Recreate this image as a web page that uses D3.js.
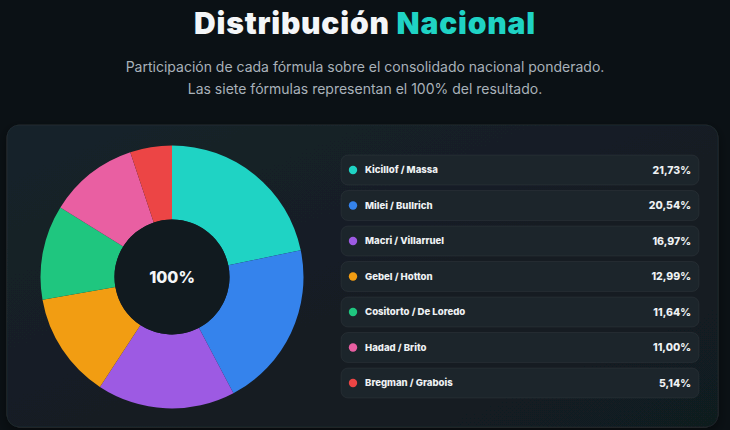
<!DOCTYPE html>
<html>
  <head>
    <meta charset="utf-8">
    <title>Distribución Nacional</title>
    <script src="https://d3js.org/d3.v7.min.js"></script>
    <style>
      body { margin: 0; background: #0b1115; }
      svg { display: block; }
    </style>
  </head>
  <body>
    <script>
      // Data
      const formulas = ["Kicillof / Massa", "Milei / Bullrich", "Macri / Villarruel", "Gebel / Hotton",
        "Cositorto / De Loredo", "Hadad / Brito", "Bregman / Grabois"];
      const shares = [21.73, 20.54, 16.97, 12.99, 11.64, 11.00, 5.14];
      const colors = ["#1fd3c4", "#3583ec", "#9d5ae3", "#f29d12", "#1fc67f", "#e95fa2", "#ec4545"];

      const width = 730;
      const height = 430;
      const fmt = v => v.toFixed(2).replace(".", ",") + "%";

      const svg = d3.select("body")
        .append("svg")
        .attr("width", width)
        .attr("height", height);

      const defs = svg.append("defs");
      const grad = defs.append("linearGradient")
        .attr("id", "panelGrad")
        .attr("x1", 0).attr("y1", 0).attr("x2", 1).attr("y2", 1);
      grad.append("stop").attr("offset", "0%").attr("stop-color", "#16222a");
      grad.append("stop").attr("offset", "100%").attr("stop-color", "#111a1f");

      const shadow = defs.append("filter").attr("id", "shadow")
        .attr("x", "-10%").attr("y", "-10%").attr("width", "120%").attr("height", "130%");
      shadow.append("feDropShadow")
        .attr("dx", 0).attr("dy", 4).attr("stdDeviation", 6)
        .attr("flood-color", "#000").attr("flood-opacity", 0.45);

      // Title
      const title = svg.append("text")
        .attr("x", width / 2)
        .attr("y", 34)
        .attr("text-anchor", "middle")
        .style("font-family", "Inter, 'Noto Sans', sans-serif")
        .style("font-weight", 900)
        .style("font-size", "30px")
        .style("letter-spacing", "0.8px");
      title.append("tspan").attr("fill", "#f4f6f8").text("Distribución ");
      title.append("tspan").attr("fill", "#1fd3c4").text("Nacional");

      const subtitle = [
        "Participación de cada fórmula sobre el consolidado nacional ponderado.",
        "Las siete fórmulas representan el 100% del resultado."
      ];
      svg.selectAll("text.sub")
        .data(subtitle)
        .enter()
        .append("text")
        .attr("class", "sub")
        .attr("x", width / 2)
        .attr("y", (d, i) => 72 + i * 22)
        .attr("text-anchor", "middle")
        .attr("fill", "#a9b2ba")
        .style("font-family", "Inter, 'Noto Sans', sans-serif")
        .style("font-size", "14px")
        .text(d => d);

      // Panel
      svg.append("rect")
        .attr("x", 7)
        .attr("y", 125)
        .attr("width", 711)
        .attr("height", 302)
        .attr("rx", 12)
        .attr("fill", "url(#panelGrad)")
        .attr("stroke", "rgba(255,255,255,0.05)")
        .attr("filter", "url(#shadow)");

      // Donut
      const cx = 172, cy = 277;
      const outer = 131.5, inner = 57.5;
      const pie = d3.pie().sort(null).value(d => d);
      const arc = d3.arc().innerRadius(inner).outerRadius(outer);

      const donut = svg.append("g")
        .attr("transform", `translate(${cx}, ${cy})`);

      donut.selectAll("path")
        .data(pie(shares))
        .enter()
        .append("path")
        .attr("d", arc)
        .attr("fill", (d, i) => colors[i]);

      donut.append("circle")
        .attr("r", inner)
        .attr("fill", "#111a1f");

      donut.append("text")
        .attr("text-anchor", "middle")
        .attr("dy", "0.35em")
        .attr("fill", "#f4f6f8")
        .style("font-family", "Inter, 'Noto Sans', sans-serif")
        .style("font-weight", 800)
        .style("font-size", "16px")
        .text("100%");

      // Legend rows
      const y = d3.scaleBand()
        .domain(formulas)
        .range([155, 398])
        .paddingInner(0.155)
        .paddingOuter(0);
      const x0 = 341, x1 = 699;

      const rows = svg.selectAll("g.row")
        .data(formulas)
        .enter()
        .append("g")
        .attr("class", "row")
        .attr("transform", d => `translate(0, ${y(d)})`);

      rows.append("rect")
        .attr("x", x0)
        .attr("width", x1 - x0)
        .attr("height", y.bandwidth())
        .attr("rx", 7)
        .attr("fill", "#1c252b")
        .attr("stroke", "rgba(255,255,255,0.05)");

      rows.append("circle")
        .attr("cx", 353)
        .attr("cy", y.bandwidth() / 2)
        .attr("r", 4.2)
        .attr("fill", (d, i) => colors[i]);

      rows.append("text")
        .attr("x", 365)
        .attr("y", y.bandwidth() / 2)
        .attr("dy", "0.35em")
        .attr("fill", "#eef1f3")
        .style("font-family", "Inter, 'Noto Sans', sans-serif")
        .style("font-weight", 800)
        .style("font-size", "9.6px")
        .text(d => d);

      rows.append("text")
        .attr("x", 691)
        .attr("y", y.bandwidth() / 2)
        .attr("dy", "0.35em")
        .attr("text-anchor", "end")
        .attr("fill", "#eef1f3")
        .style("font-family", "Inter, 'Noto Sans', sans-serif")
        .style("font-weight", 800)
        .style("font-size", "10.5px")
        .text((d, i) => fmt(shares[i]));
    </script>
  </body>
</html>
